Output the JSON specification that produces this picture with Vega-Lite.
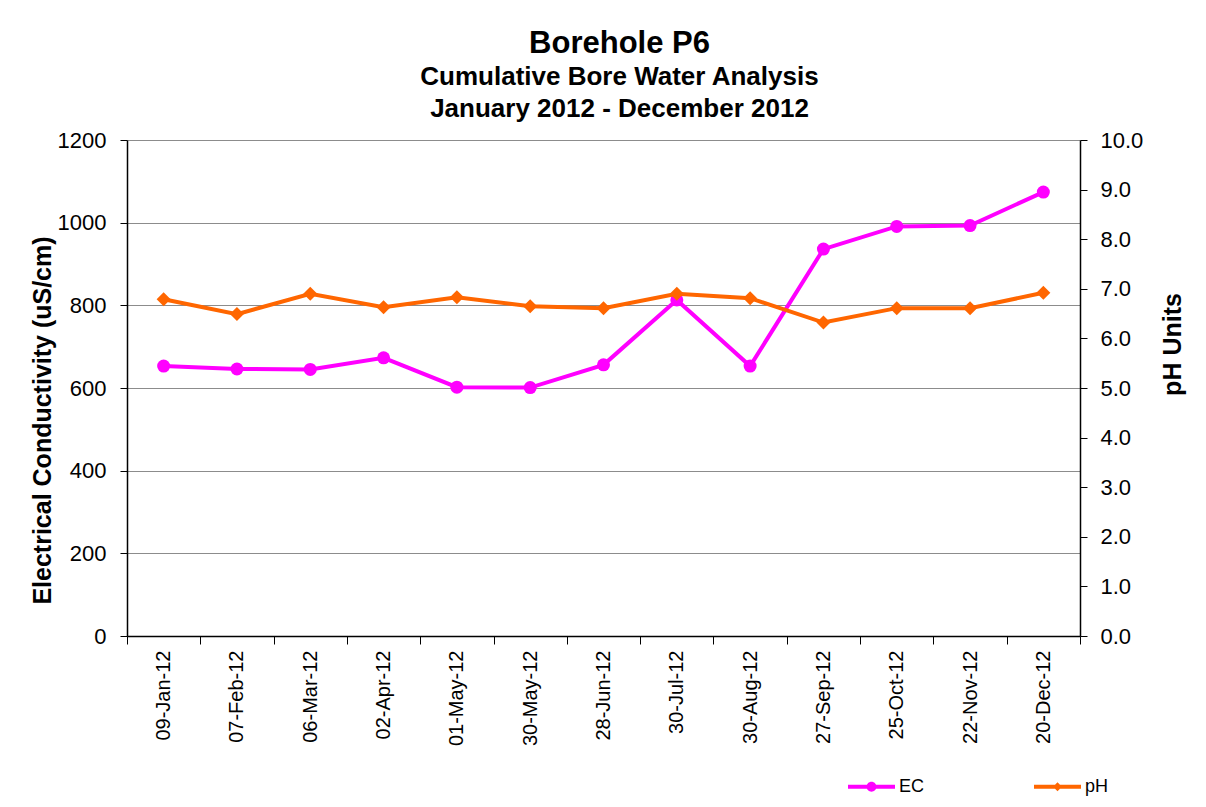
{
  "$schema": "https://vega.github.io/schema/vega-lite/v6.json",
  "width": 953,
  "height": 496,
  "autosize": {"type": "none"},
  "padding": {"left": 127, "top": 140, "right": 126, "bottom": 171},
  "background": "white",
  "config": {"font": "Liberation Sans", "view": {"stroke": null}},
  "title": {
    "text": "Borehole P6",
    "subtitle": ["Cumulative Bore Water Analysis", "January 2012 - December 2012"],
    "anchor": "middle",
    "fontSize": 31,
    "fontWeight": "bold",
    "color": "black",
    "font": "Liberation Sans",
    "subtitleFont": "Liberation Sans",
    "subtitleFontSize": 26,
    "subtitleFontWeight": "bold",
    "subtitleColor": "black",
    "subtitlePadding": 4,
    "subtitleLineHeight": 32,
    "offset": 6,
    "dx": 16
  },
  "data": {
    "values": [
      {"date": "09-Jan-12", "EC": 653, "pH": 6.79},
      {"date": "07-Feb-12", "EC": 646, "pH": 6.49},
      {"date": "06-Mar-12", "EC": 645, "pH": 6.9},
      {"date": "02-Apr-12", "EC": 673, "pH": 6.63},
      {"date": "01-May-12", "EC": 602, "pH": 6.83},
      {"date": "30-May-12", "EC": 601, "pH": 6.65},
      {"date": "28-Jun-12", "EC": 656, "pH": 6.61},
      {"date": "30-Jul-12", "EC": 813, "pH": 6.9},
      {"date": "30-Aug-12", "EC": 653, "pH": 6.81},
      {"date": "27-Sep-12", "EC": 936, "pH": 6.32},
      {"date": "25-Oct-12", "EC": 991, "pH": 6.61},
      {"date": "22-Nov-12", "EC": 993, "pH": 6.61},
      {"date": "20-Dec-12", "EC": 1074, "pH": 6.92}
    ]
  },
  "encoding": {
    "x": {
      "field": "date",
      "type": "ordinal",
      "sort": null,
      "scale": {"type": "band", "paddingInner": 0, "paddingOuter": 0},
      "axis": {
        "title": null,
        "labelAngle": -90,
        "labelFontSize": 20,
        "labelColor": "black",
        "labelPadding": 6,
        "tickBand": "extent",
        "tickSize": 8,
        "tickColor": "black",
        "domainColor": "black",
        "domainWidth": 1.5,
        "grid": false
      }
    }
  },
  "layer": [
    {
      "encoding": {
        "y": {
          "field": "EC",
          "type": "quantitative",
          "scale": {"domain": [0, 1200], "nice": false},
          "axis": {
            "title": "Electrical Conductivity (uS/cm)",
            "titleFontSize": 25,
            "titleFontWeight": "bold",
            "titleColor": "black",
            "titleX": -85,
            "titleY": 280,
            "titleAlign": "center",
            "titleBaseline": "middle",
            "labelFontSize": 22,
            "labelColor": "black",
            "labelPadding": 14,
            "format": "d",
            "values": [0, 200, 400, 600, 800, 1000, 1200],
            "tickSize": 7,
            "tickColor": "black",
            "domainColor": "black",
            "domainWidth": 1.5,
            "grid": true,
            "gridColor": "#8c8c8c",
            "gridWidth": 1.2
          }
        }
      },
      "layer": [
        {
          "mark": {"type": "line", "color": "#FF00FF", "strokeWidth": 4}
        },
        {
          "mark": {"type": "point", "shape": "circle", "filled": true, "opacity": 1, "color": "#FF00FF", "size": 169}
        },
        {
          "transform": [{"fold": ["EC", "pH"], "as": ["series", "val"]}],
          "mark": {"type": "point", "filled": true, "size": 0},
          "encoding": {
            "color": {
              "field": "series",
              "type": "nominal",
              "scale": {"domain": ["EC", "pH"], "range": ["#FF00FF", "#FF6600"]},
              "legend": {
                "title": null,
                "orient": "none",
                "legendX": 721,
                "legendY": 623,
                "direction": "horizontal",
                "columns": 2,
                "columnPadding": 109,
                "symbolSize": 2209,
                "symbolStrokeWidth": 0,
                "symbolOpacity": 1,
                "labelFontSize": 18,
                "labelColor": "black",
                "labelOffset": 4
              }
            },
            "shape": {
              "field": "series",
              "type": "nominal",
              "scale": {
                "domain": ["EC", "pH"],
                "range": [
                  "M-1,-0.085L1,-0.085L1,0.085L-1,0.085Z M0.21,0A0.21,0.21,0,1,1,-0.21,0A0.21,0.21,0,1,1,0.21,0Z",
                  "M-1,-0.085L1,-0.085L1,0.085L-1,0.085Z M0.19,0L0,0.19L-0.19,0L0,-0.19Z"
                ]
              },
              "legend": {
                "title": null,
                "orient": "none",
                "legendX": 721,
                "legendY": 623,
                "direction": "horizontal",
                "columns": 2,
                "columnPadding": 109,
                "symbolSize": 2209,
                "symbolStrokeWidth": 0,
                "symbolOpacity": 1,
                "labelFontSize": 18,
                "labelColor": "black",
                "labelOffset": 4
              }
            }
          }
        }
      ]
    },
    {
      "encoding": {
        "y": {
          "field": "pH",
          "type": "quantitative",
          "scale": {"domain": [0, 10], "nice": false},
          "axis": {
            "orient": "right",
            "title": "pH Units",
            "titleAngle": -90,
            "titleFontSize": 25,
            "titleFontWeight": "bold",
            "titleColor": "black",
            "titleX": 92,
            "titleY": 204,
            "titleAlign": "center",
            "titleBaseline": "middle",
            "labelFontSize": 22,
            "labelColor": "black",
            "labelPadding": 13,
            "format": ".1f",
            "values": [0, 1, 2, 3, 4, 5, 6, 7, 8, 9, 10],
            "tickSize": 7,
            "tickColor": "black",
            "domainColor": "black",
            "domainWidth": 1.5,
            "grid": false
          }
        }
      },
      "layer": [
        {
          "mark": {"type": "line", "color": "#FF6600", "strokeWidth": 4}
        },
        {
          "mark": {"type": "point", "shape": "diamond", "filled": true, "opacity": 1, "color": "#FF6600", "size": 196}
        }
      ]
    }
  ],
  "resolve": {"scale": {"y": "independent"}}
}
